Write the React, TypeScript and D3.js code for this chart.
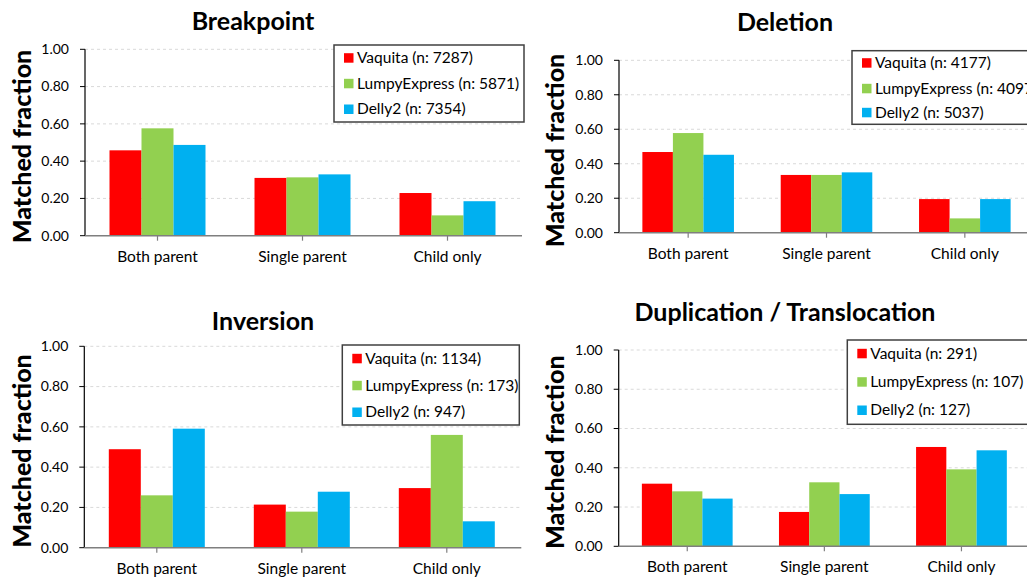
import React, { useEffect, useRef } from "react";
import * as d3 from "d3";

const categories = ["Both parent", "Single parent", "Child only"];
const seriesNames = ["Vaquita", "LumpyExpress", "Delly2"];
const seriesColors = ["#FF0000", "#92D050", "#00B0F0"];
const yTicks = [0, 0.2, 0.4, 0.6, 0.8, 1.0];

const panelTitles = ["Breakpoint", "Deletion", "Inversion", "Duplication / Translocation"];

const breakpointValues = [
  [0.458, 0.31, 0.229],
  [0.576, 0.313, 0.109],
  [0.487, 0.329, 0.185],
];
const breakpointCounts = [7287, 5871, 7354];

const deletionValues = [
  [0.468, 0.335, 0.195],
  [0.578, 0.335, 0.083],
  [0.452, 0.35, 0.195],
];
const deletionCounts = [4177, 4097, 5037];

const inversionValues = [
  [0.489, 0.214, 0.296],
  [0.26, 0.179, 0.56],
  [0.591, 0.278, 0.131],
];
const inversionCounts = [1134, 173, 947];

const dupTransValues = [
  [0.319, 0.175, 0.506],
  [0.28, 0.326, 0.392],
  [0.243, 0.266, 0.489],
];
const dupTransCounts = [291, 107, 127];

const FONT = "Lato, 'Open Sans', sans-serif";

type Layout = {
  x0: number; x1: number; yTop: number; yBot: number;
  titleX: number; titleY: number;
  ylabX: number;
  leg: { x: number; y: number; w: number; h: number; rows: number[] };
};

const layouts: Layout[] = [
  { x0: 85, x1: 520, yTop: 49.3, yBot: 235.7, titleX: 253, titleY: 30,
    ylabX: 22, leg: { x: 334, y: 45, w: 190, h: 77, rows: [57.7, 83.3, 109] } },
  { x0: 619, x1: 1034, yTop: 60.3, yBot: 232.7, titleX: 785, titleY: 31,
    ylabX: 555, leg: { x: 852, y: 50.7, w: 200, h: 73.6, rows: [62.7, 88.3, 112.3] } },
  { x0: 84.3, x1: 519.3, yTop: 346.3, yBot: 547.7, titleX: 263, titleY: 330,
    ylabX: 22, leg: { x: 342.3, y: 345, w: 177, h: 80, rows: [358.3, 385.3, 412] } },
  { x0: 618.7, x1: 1030, yTop: 350, yBot: 546.3, titleX: 785, titleY: 321,
    ylabX: 555, leg: { x: 847.3, y: 340, w: 200, h: 84.3, rows: [353.3, 381.7, 410] } },
];

const panelValues = [breakpointValues, deletionValues, inversionValues, dupTransValues];
const panelCounts = [breakpointCounts, deletionCounts, inversionCounts, dupTransCounts];

export default function App() {
  const ref = useRef<SVGSVGElement>(null);

  useEffect(() => {
    const svg = d3.select(ref.current);
    svg.selectAll("*").remove();
    svg.append("rect").attr("width", 1027).attr("height", 579).attr("fill", "#fff");

    layouts.forEach((L, pi) => {
      const g = svg.append("g");
      const values = panelValues[pi];
      const counts = panelCounts[pi];

      const x = d3.scaleBand<string>().domain(categories).range([L.x0, L.x1])
        .paddingInner(0.338).paddingOuter(0.169);
      const xs = d3.scaleBand<string>().domain(seriesNames).range([0, x.bandwidth()]);
      const y = d3.scaleLinear().domain([0, 1]).range([L.yBot, L.yTop]);

      // gridlines
      g.selectAll(".grid").data(yTicks.filter((t) => t > 0)).enter().append("line")
        .attr("x1", L.x0).attr("x2", L.x1)
        .attr("y1", (d) => y(d)).attr("y2", (d) => y(d))
        .attr("stroke", "#D9D9D9").attr("stroke-width", 1)
        .attr("stroke-dasharray", "3,3");

      // bars
      seriesNames.forEach((s, si) => {
        g.selectAll(".bar" + si).data(values[si]).enter().append("rect")
          .attr("x", (_d, ci) => (x(categories[ci]) as number) + (xs(s) as number))
          .attr("width", xs.bandwidth())
          .attr("y", (d) => y(d))
          .attr("height", (d) => L.yBot - y(d))
          .attr("fill", seriesColors[si]);
      });

      // y axis
      g.append("line").attr("x1", L.x0).attr("x2", L.x0)
        .attr("y1", L.yTop).attr("y2", L.yBot).attr("stroke", "#000").attr("stroke-width", 1.2);
      g.selectAll(".yt").data(yTicks).enter().append("line")
        .attr("x1", L.x0 - 5).attr("x2", L.x0)
        .attr("y1", (d) => y(d)).attr("y2", (d) => y(d))
        .attr("stroke", "#000").attr("stroke-width", 1);
      g.selectAll(".yl").data(yTicks).enter().append("text")
        .attr("x", L.x0 - 16).attr("y", (d) => y(d))
        .attr("dy", "0.35em").attr("text-anchor", "end")
        .attr("font-family", FONT).attr("font-size", 14).attr("fill", "#000")
        .text((d) => d3.format(".2f")(d));

      // x axis
      g.append("line").attr("x1", L.x0).attr("x2", L.x1 + 2)
        .attr("y1", L.yBot).attr("y2", L.yBot).attr("stroke", "#7F7F7F").attr("stroke-width", 1.5);
      g.selectAll(".xt").data(categories).enter().append("line")
        .attr("x1", (d) => (x(d) as number) + x.bandwidth() / 2)
        .attr("x2", (d) => (x(d) as number) + x.bandwidth() / 2)
        .attr("y1", L.yBot).attr("y2", L.yBot + 5)
        .attr("stroke", "#7F7F7F").attr("stroke-width", 1.2);
      g.selectAll(".xl").data(categories).enter().append("text")
        .attr("x", (d) => (x(d) as number) + x.bandwidth() / 2)
        .attr("y", L.yBot + 26)
        .attr("text-anchor", "middle")
        .attr("font-family", FONT).attr("font-size", 15.5).attr("fill", "#000")
        .text((d) => d);

      // y label
      g.append("text")
        .attr("transform", `translate(${L.ylabX},${(L.yTop + L.yBot) / 2 + 4}) rotate(-90)`)
        .attr("dy", "0.35em")
        .attr("text-anchor", "middle")
        .attr("font-family", FONT).attr("font-weight", 900).attr("font-size", 25)
        .attr("fill", "#000")
        .text("Matched fraction");

      // title
      g.append("text").attr("x", L.titleX).attr("y", L.titleY)
        .attr("text-anchor", "middle")
        .attr("font-family", FONT).attr("font-weight", "bold").attr("font-size", 25)
        .attr("fill", "#000")
        .text(panelTitles[pi]);

      // legend
      const lg = g.append("g");
      lg.append("rect").attr("x", L.leg.x).attr("y", L.leg.y)
        .attr("width", L.leg.w).attr("height", L.leg.h)
        .attr("fill", "#fff").attr("stroke", "#404040").attr("stroke-width", 1.5);
      seriesNames.forEach((s, si) => {
        const cy = L.leg.rows[si];
        lg.append("rect").attr("x", L.leg.x + 10).attr("y", cy - 4.5)
          .attr("width", 9.5).attr("height", 9.5).attr("fill", seriesColors[si]);
        lg.append("text").attr("x", L.leg.x + 23).attr("y", cy)
          .attr("dy", "0.35em")
          .attr("font-family", FONT).attr("font-size", 15.5).attr("fill", "#000")
          .text(`${s} (n: ${counts[si]})`);
      });
    });
  }, []);

  return (
    <svg ref={ref} width={1027} height={579}
      style={{ position: "absolute", left: 0, top: 0, display: "block" }} />
  );
}
